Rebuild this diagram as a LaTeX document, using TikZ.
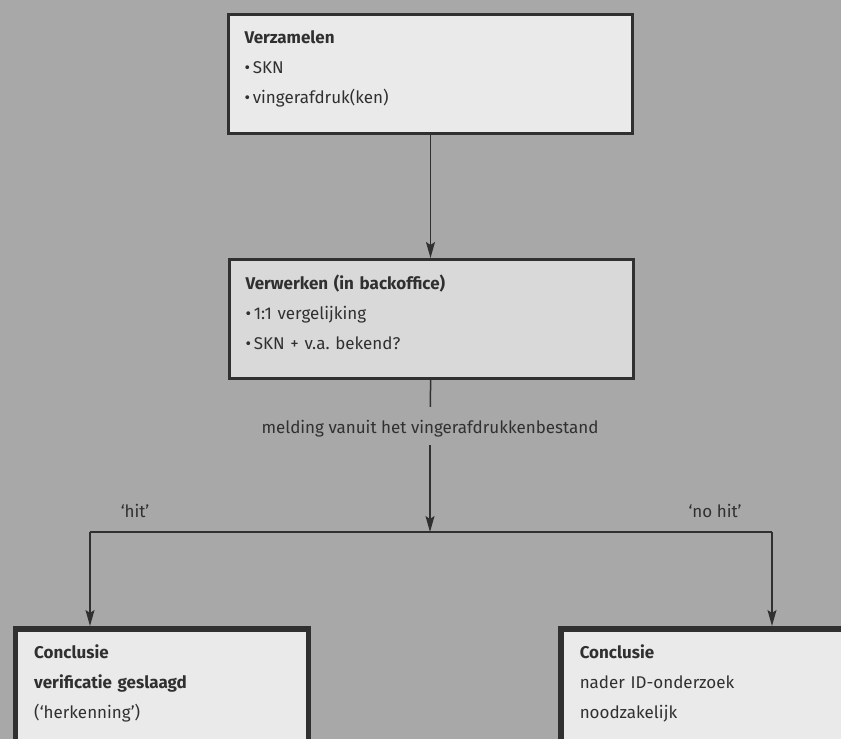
\documentclass[tikz,border=0pt]{standalone}
\usepackage{fontspec}
\setmainfont{Fira Sans}
\usetikzlibrary{arrows.meta, positioning}
\definecolor{bggray}{RGB}{168, 168, 168}
\definecolor{boxlight}{RGB}{234, 234, 234}
\definecolor{boxmid}{RGB}{217, 217, 217}
\definecolor{inkgray}{RGB}{48, 48, 48}
\frenchspacing

\tikzset{
  stepbox/.style={draw=inkgray, line width=3pt, fill=boxlight, anchor=north west,
    text width=372pt, inner xsep=16pt, inner ysep=17.5pt, text height=12pt, text depth=72pt,
    align=left, text=inkgray, font=\fontsize{17}{30}\selectfont},
  endbox/.style={stepbox, line width=5.5pt, text width=255pt, inner xsep=19pt, inner ysep=18pt, text depth=140pt},
  flow/.style={line width=1.5pt, draw=inkgray, -{Stealth[length=16pt, width=9pt, inset=3pt]}},
  branch/.style={line width=1.5pt, draw=inkgray},
  note/.style={text=inkgray, font=\fontsize{17}{20}\selectfont, inner sep=0pt}
}

\begin{document}
\begin{tikzpicture}[x=1pt, y=-1pt]
  % background
  \useasboundingbox (0,0) rectangle (841,739);
  \clip (0,0) rectangle (841,739);
  \fill[bggray] (0,0) rectangle (841,739);

  % steps
  \node[stepbox] (verz) at (227,12.5) {\textbf{Verzamelen}\\ •\,SKN\\ •\,vingerafdruk(ken)};
  \node[stepbox, fill=boxmid] (verw) at (228,258) {\textbf{Verwerken (in backoffice)}\\ •\,1:1 vergelijking\\ •\,SKN + v.a. bekend?};
  \draw[flow] (verz.south) -- (verz.south |- verw.north);

  % melding
  \node[note, inner ysep=12pt, text height=14pt, text depth=0pt] (meld) at (430,426) {melding vanuit het vingerafdrukkenbestand};
  \draw[branch] (verw) -- (meld);
  \coordinate (split) at (430,532);
  \draw[flow] (meld) -- (split);

  % branches
  \coordinate (hitc) at (90,532);
  \coordinate (nohitc) at (772,532);
  \draw[branch] (hitc) -- (nohitc);
  \node[note] (hitlbl) at (135,511) {‘hit’};
  \node[note] (nohitlbl) at (715,511) {‘no hit’};

  % conclusions
  \node[endbox] (herk) at (12.5,626) {\textbf{Conclusie}\\ \textbf{verificatie geslaagd}\\ (‘herkenning’)};
  \node[endbox] (nader) at (558,626) {\textbf{Conclusie}\\ nader ID-onderzoek\\ noodzakelijk};
  \draw[flow] (hitc) -- (hitc |- herk.north);
  \draw[flow] (nohitc) -- (nohitc |- nader.north);
\end{tikzpicture}
\end{document}
